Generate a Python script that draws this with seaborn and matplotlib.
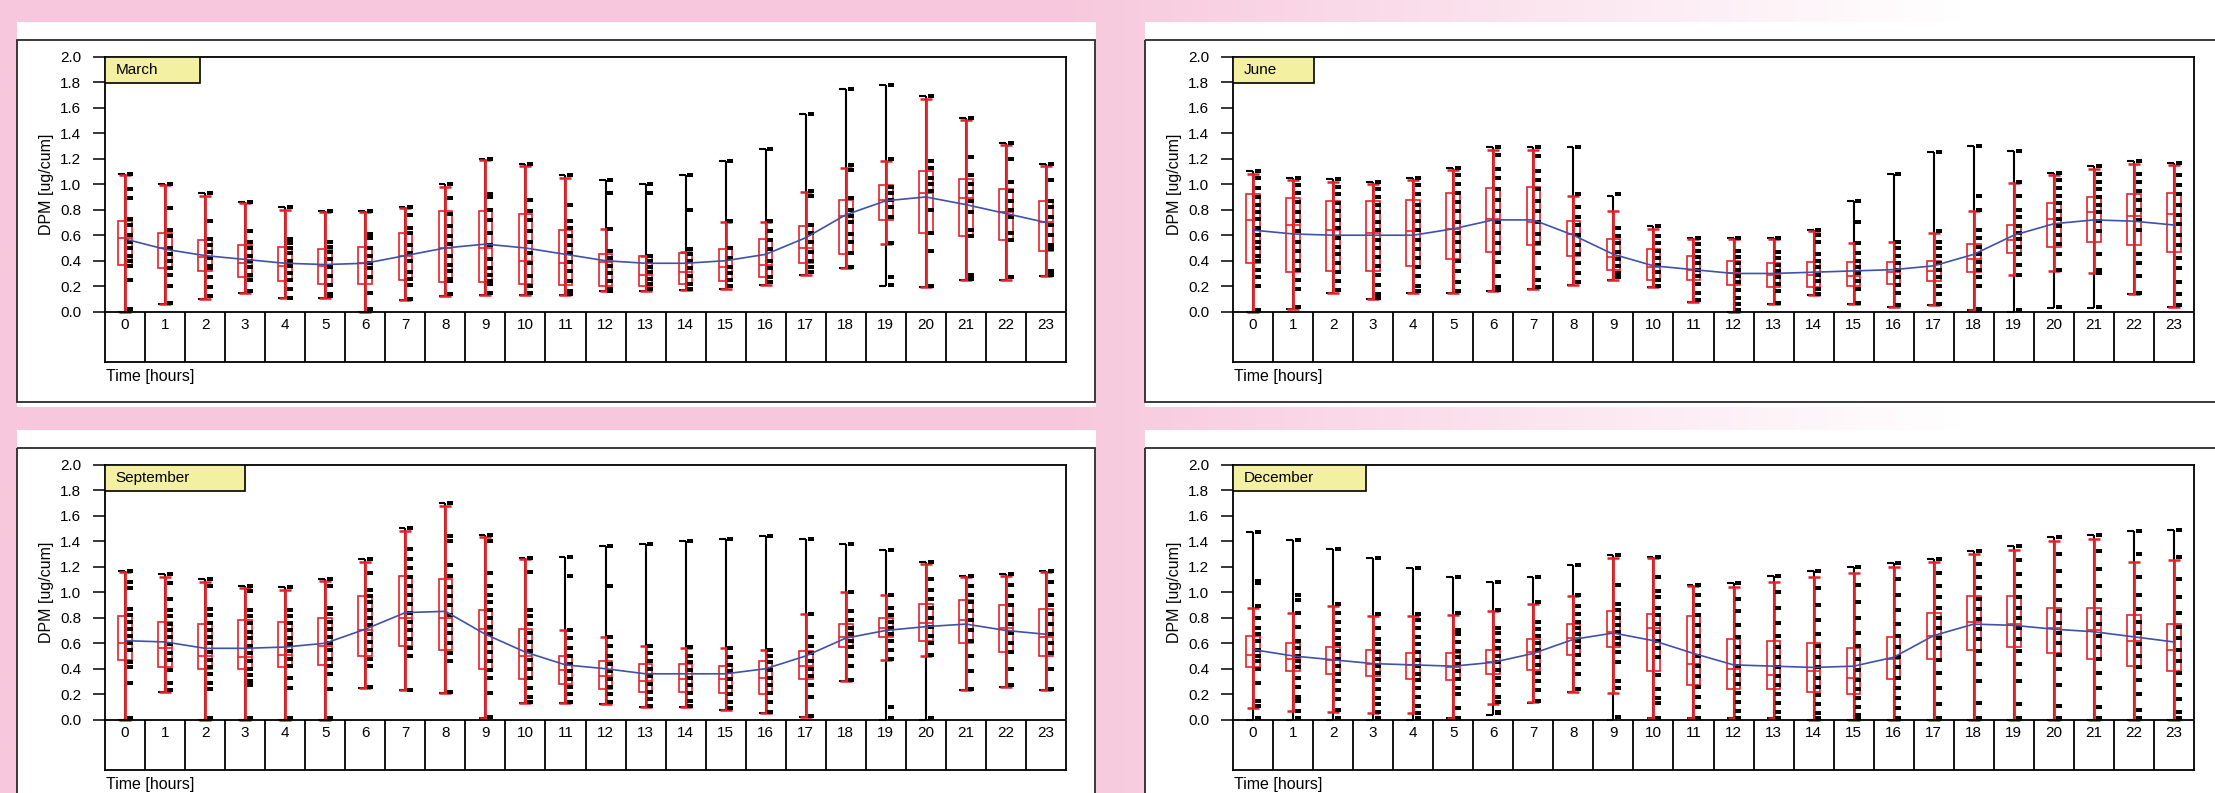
import numpy as np
import pandas as pd
import matplotlib
matplotlib.use("Agg")
import matplotlib.pyplot as plt
import seaborn as sns
from matplotlib.patches import Rectangle
from matplotlib.ticker import FormatStrFormatter

plt.rcParams["font.family"] = ["Liberation Sans", "DejaVu Sans"]

HOURS = list(range(24))
HOUR_LABELS = [str(h) for h in HOURS]
Y_TICKS = [0.0, 0.2, 0.4, 0.6, 0.8, 1.0, 1.2, 1.4, 1.6, 1.8, 2.0]
Y_LABEL = "DPM [ug/cum]"
X_LABEL = "Time [hours]"

# ---------------- March ----------------
MARCH_MIN = [0.00, 0.06, 0.10, 0.15, 0.11, 0.11, 0.00, 0.09, 0.12, 0.13, 0.13, 0.13,
             0.16, 0.16, 0.17, 0.18, 0.21, 0.29, 0.34, 0.20, 0.19, 0.25, 0.25, 0.28]
MARCH_MAX = [1.08, 1.00, 0.93, 0.86, 0.82, 0.79, 0.79, 0.82, 1.00, 1.20, 1.16, 1.07,
             1.03, 1.00, 1.07, 1.18, 1.28, 1.55, 1.75, 1.78, 1.69, 1.52, 1.32, 1.16]
MARCH_WLO = [0.00, 0.06, 0.10, 0.15, 0.11, 0.11, 0.00, 0.09, 0.12, 0.13, 0.13, 0.13,
             0.16, 0.16, 0.17, 0.18, 0.21, 0.29, 0.34, 0.53, 0.19, 0.25, 0.25, 0.28]
MARCH_WHI = [1.07, 0.99, 0.91, 0.85, 0.80, 0.78, 0.78, 0.81, 0.98, 1.19, 1.14, 1.05,
             0.65, 0.44, 0.47, 0.70, 0.70, 0.94, 1.13, 1.18, 1.67, 1.50, 1.31, 1.14]
MARCH_Q1 = [0.37, 0.34, 0.32, 0.27, 0.24, 0.22, 0.22, 0.25, 0.23, 0.23, 0.22, 0.21,
            0.20, 0.20, 0.22, 0.24, 0.27, 0.38, 0.45, 0.72, 0.62, 0.59, 0.56, 0.48]
MARCH_MED = [0.58, 0.50, 0.43, 0.38, 0.36, 0.36, 0.38, 0.44, 0.50, 0.50, 0.40, 0.38,
             0.39, 0.29, 0.31, 0.35, 0.37, 0.50, 0.75, 0.88, 0.93, 0.89, 0.78, 0.70]
MARCH_Q3 = [0.71, 0.62, 0.56, 0.52, 0.51, 0.49, 0.51, 0.62, 0.79, 0.79, 0.77, 0.64,
            0.45, 0.44, 0.46, 0.49, 0.57, 0.67, 0.88, 0.99, 1.10, 1.04, 0.96, 0.87]
MARCH_MEAN = [0.57, 0.49, 0.44, 0.41, 0.38, 0.37, 0.38, 0.44, 0.50, 0.53, 0.50, 0.45,
              0.40, 0.38, 0.38, 0.40, 0.45, 0.58, 0.76, 0.87, 0.90, 0.84, 0.77, 0.70]
MARCH_POINTS = [
    [1.08, 0.96, 0.89, 0.73, 0.68, 0.60, 0.55, 0.50, 0.44, 0.40, 0.36, 0.25, 0.02],
    [1.00, 0.81, 0.64, 0.59, 0.50, 0.45, 0.40, 0.34, 0.29, 0.20, 0.07],
    [0.93, 0.71, 0.57, 0.52, 0.47, 0.42, 0.36, 0.34, 0.27, 0.19, 0.12],
    [0.86, 0.63, 0.55, 0.50, 0.44, 0.40, 0.35, 0.29, 0.25, 0.16],
    [0.82, 0.57, 0.54, 0.50, 0.46, 0.40, 0.36, 0.30, 0.25, 0.18, 0.11],
    [0.79, 0.55, 0.51, 0.47, 0.41, 0.35, 0.28, 0.21, 0.14, 0.12],
    [0.79, 0.61, 0.58, 0.50, 0.44, 0.38, 0.34, 0.27, 0.15, 0.02],
    [0.82, 0.76, 0.66, 0.62, 0.52, 0.46, 0.40, 0.31, 0.26, 0.21, 0.10],
    [1.00, 0.89, 0.77, 0.67, 0.59, 0.53, 0.44, 0.37, 0.32, 0.26, 0.24, 0.14],
    [1.20, 0.92, 0.90, 0.80, 0.72, 0.62, 0.52, 0.41, 0.34, 0.29, 0.24, 0.22, 0.15],
    [1.16, 0.88, 0.79, 0.72, 0.63, 0.55, 0.46, 0.38, 0.28, 0.20, 0.15],
    [1.07, 0.84, 0.71, 0.66, 0.59, 0.52, 0.46, 0.39, 0.32, 0.24, 0.16, 0.14],
    [1.03, 0.93, 0.65, 0.48, 0.42, 0.36, 0.30, 0.24, 0.18, 0.16],
    [1.00, 0.93, 0.44, 0.40, 0.35, 0.31, 0.26, 0.22, 0.18],
    [1.07, 0.80, 0.49, 0.45, 0.40, 0.34, 0.28, 0.22, 0.18],
    [1.18, 0.71, 0.50, 0.42, 0.35, 0.30, 0.25, 0.20],
    [1.28, 0.71, 0.63, 0.56, 0.49, 0.40, 0.34, 0.27, 0.23],
    [1.55, 0.95, 0.91, 0.68, 0.62, 0.55, 0.47, 0.40, 0.35, 0.31],
    [1.75, 1.15, 1.11, 0.89, 0.80, 0.75, 0.70, 0.61, 0.55, 0.46, 0.35],
    [1.78, 1.20, 0.98, 0.93, 0.88, 0.82, 0.74, 0.54, 0.27, 0.21],
    [1.69, 1.18, 1.13, 1.05, 1.00, 0.95, 0.80, 0.62, 0.48, 0.20],
    [1.52, 1.21, 1.07, 1.00, 0.94, 0.87, 0.78, 0.64, 0.59, 0.29, 0.26],
    [1.32, 1.20, 1.02, 0.95, 0.87, 0.80, 0.74, 0.62, 0.56, 0.27],
    [1.16, 1.03, 0.87, 0.82, 0.74, 0.68, 0.60, 0.52, 0.49, 0.32, 0.29],
]

# ---------------- June ----------------
JUNE_MIN = [0.00, 0.02, 0.15, 0.10, 0.15, 0.15, 0.16, 0.18, 0.21, 0.25, 0.19, 0.08,
            0.00, 0.06, 0.13, 0.06, 0.04, 0.05, 0.01, 0.00, 0.03, 0.03, 0.14, 0.04]
JUNE_MAX = [1.10, 1.05, 1.04, 1.02, 1.05, 1.13, 1.29, 1.29, 1.29, 0.91, 0.67, 0.58,
            0.58, 0.58, 0.64, 0.87, 1.08, 1.25, 1.30, 1.26, 1.09, 1.14, 1.18, 1.17]
JUNE_WLO = [0.00, 0.02, 0.15, 0.10, 0.15, 0.15, 0.16, 0.18, 0.21, 0.25, 0.19, 0.08,
            0.00, 0.06, 0.13, 0.06, 0.04, 0.05, 0.01, 0.29, 0.32, 0.30, 0.14, 0.04]
JUNE_WHI = [1.08, 1.03, 1.02, 1.00, 1.03, 1.11, 1.27, 1.27, 0.91, 0.79, 0.65, 0.57,
            0.57, 0.57, 0.63, 0.54, 0.55, 0.62, 0.79, 1.01, 1.07, 1.12, 1.16, 1.15]
JUNE_Q1 = [0.38, 0.31, 0.32, 0.32, 0.36, 0.41, 0.47, 0.52, 0.44, 0.33, 0.25, 0.25,
           0.21, 0.19, 0.19, 0.20, 0.22, 0.24, 0.31, 0.46, 0.51, 0.55, 0.52, 0.47]
JUNE_MED = [0.72, 0.68, 0.64, 0.62, 0.63, 0.65, 0.73, 0.70, 0.61, 0.43, 0.35, 0.33,
            0.30, 0.29, 0.29, 0.28, 0.31, 0.32, 0.41, 0.56, 0.73, 0.78, 0.75, 0.77]
JUNE_Q3 = [0.92, 0.89, 0.87, 0.87, 0.88, 0.93, 0.97, 0.98, 0.71, 0.57, 0.49, 0.44,
           0.40, 0.38, 0.39, 0.39, 0.39, 0.40, 0.53, 0.68, 0.85, 0.90, 0.92, 0.93]
JUNE_MEAN = [0.64, 0.61, 0.60, 0.60, 0.60, 0.65, 0.72, 0.72, 0.60, 0.45, 0.36, 0.33,
             0.30, 0.30, 0.31, 0.32, 0.33, 0.36, 0.45, 0.60, 0.69, 0.72, 0.71, 0.68]
JUNE_POINTS = [
    [1.10, 1.05, 0.97, 0.90, 0.84, 0.78, 0.73, 0.66, 0.60, 0.55, 0.50, 0.44, 0.40, 0.33, 0.27, 0.20, 0.01],
    [1.05, 0.99, 0.93, 0.86, 0.78, 0.71, 0.63, 0.55, 0.48, 0.40, 0.33, 0.25, 0.18, 0.04],
    [1.04, 0.98, 0.92, 0.85, 0.79, 0.72, 0.66, 0.58, 0.51, 0.45, 0.38, 0.31, 0.24, 0.17],
    [1.02, 0.96, 0.90, 0.84, 0.78, 0.70, 0.64, 0.56, 0.50, 0.43, 0.36, 0.29, 0.21, 0.14, 0.11],
    [1.05, 0.99, 0.92, 0.84, 0.78, 0.71, 0.64, 0.56, 0.49, 0.42, 0.35, 0.28, 0.20, 0.16],
    [1.13, 1.07, 1.00, 0.93, 0.86, 0.79, 0.70, 0.62, 0.55, 0.48, 0.40, 0.32, 0.23, 0.16],
    [1.29, 1.23, 1.12, 1.05, 0.96, 0.88, 0.79, 0.70, 0.62, 0.54, 0.46, 0.39, 0.28, 0.19, 0.17],
    [1.29, 1.22, 1.10, 1.03, 0.96, 0.87, 0.79, 0.70, 0.61, 0.54, 0.46, 0.34, 0.25, 0.19],
    [1.29, 0.92, 0.82, 0.74, 0.68, 0.60, 0.52, 0.45, 0.38, 0.30, 0.23],
    [0.92, 0.66, 0.59, 0.54, 0.47, 0.41, 0.36, 0.30, 0.27],
    [0.67, 0.59, 0.54, 0.48, 0.42, 0.37, 0.31, 0.25, 0.20],
    [0.58, 0.53, 0.48, 0.43, 0.38, 0.33, 0.28, 0.22, 0.15, 0.09],
    [0.58, 0.48, 0.43, 0.38, 0.33, 0.28, 0.23, 0.17, 0.11, 0.06, 0.01],
    [0.58, 0.47, 0.42, 0.37, 0.32, 0.27, 0.22, 0.16, 0.07],
    [0.64, 0.60, 0.55, 0.45, 0.40, 0.35, 0.29, 0.24, 0.18, 0.14],
    [0.87, 0.70, 0.54, 0.46, 0.40, 0.35, 0.30, 0.24, 0.18, 0.07],
    [1.08, 0.55, 0.50, 0.44, 0.38, 0.33, 0.27, 0.21, 0.15, 0.05],
    [1.25, 0.63, 0.55, 0.50, 0.44, 0.38, 0.33, 0.27, 0.20, 0.14, 0.06],
    [1.30, 0.91, 0.80, 0.64, 0.58, 0.51, 0.45, 0.39, 0.33, 0.27, 0.20, 0.02],
    [1.26, 1.02, 0.91, 0.80, 0.74, 0.67, 0.62, 0.57, 0.51, 0.45, 0.37, 0.29, 0.01],
    [1.09, 1.03, 0.97, 0.91, 0.85, 0.79, 0.73, 0.67, 0.60, 0.53, 0.45, 0.33, 0.04],
    [1.14, 1.08, 1.02, 0.96, 0.90, 0.84, 0.78, 0.71, 0.63, 0.45, 0.33, 0.30, 0.04],
    [1.18, 1.08, 1.02, 0.95, 0.88, 0.80, 0.72, 0.64, 0.45, 0.38, 0.28, 0.15],
    [1.17, 1.07, 0.99, 0.92, 0.84, 0.76, 0.69, 0.60, 0.52, 0.42, 0.34, 0.23, 0.14, 0.05],
]

# ---------------- September ----------------
SEPTEMBER_MIN = [0.00, 0.22, 0.00, 0.00, 0.00, 0.00, 0.25, 0.23, 0.21, 0.01, 0.13, 0.13,
                 0.12, 0.10, 0.10, 0.08, 0.05, 0.02, 0.30, 0.00, 0.00, 0.23, 0.26, 0.23]
SEPTEMBER_MAX = [1.17, 1.14, 1.10, 1.05, 1.04, 1.10, 1.26, 1.50, 1.70, 1.45, 1.27, 1.28,
                 1.36, 1.38, 1.40, 1.42, 1.44, 1.42, 1.38, 1.33, 1.24, 1.13, 1.14, 1.17]
SEPTEMBER_WLO = [0.00, 0.22, 0.00, 0.00, 0.00, 0.00, 0.25, 0.23, 0.21, 0.01, 0.13, 0.13,
                 0.12, 0.10, 0.10, 0.08, 0.05, 0.02, 0.30, 0.47, 0.50, 0.23, 0.26, 0.23]
SEPTEMBER_WHI = [1.16, 1.12, 1.08, 1.03, 1.02, 1.09, 1.24, 1.48, 1.68, 1.43, 1.26, 0.70,
                 0.65, 0.58, 0.56, 0.56, 0.55, 0.83, 1.00, 0.98, 1.22, 1.12, 1.13, 1.16]
SEPTEMBER_Q1 = [0.47, 0.41, 0.40, 0.40, 0.41, 0.43, 0.50, 0.58, 0.55, 0.40, 0.32, 0.28,
                0.24, 0.22, 0.22, 0.21, 0.20, 0.32, 0.57, 0.65, 0.62, 0.60, 0.53, 0.50]
SEPTEMBER_MED = [0.60, 0.56, 0.50, 0.49, 0.51, 0.58, 0.70, 0.80, 0.80, 0.71, 0.50, 0.39,
                 0.34, 0.30, 0.32, 0.32, 0.33, 0.42, 0.65, 0.72, 0.76, 0.78, 0.72, 0.65]
SEPTEMBER_Q3 = [0.81, 0.77, 0.75, 0.78, 0.77, 0.80, 0.97, 1.13, 1.10, 0.86, 0.71, 0.50,
                0.46, 0.44, 0.44, 0.42, 0.46, 0.54, 0.75, 0.80, 0.91, 0.94, 0.90, 0.87]
SEPTEMBER_MEAN = [0.62, 0.61, 0.56, 0.56, 0.57, 0.60, 0.71, 0.84, 0.85, 0.67, 0.53, 0.43,
                  0.40, 0.36, 0.36, 0.36, 0.40, 0.50, 0.64, 0.70, 0.73, 0.75, 0.70, 0.67]
SEPTEMBER_POINTS = [
    [1.17, 1.08, 1.03, 0.87, 0.82, 0.77, 0.71, 0.66, 0.60, 0.55, 0.45, 0.41, 0.29, 0.01],
    [1.14, 1.07, 0.95, 0.86, 0.81, 0.75, 0.70, 0.65, 0.59, 0.52, 0.47, 0.39, 0.29, 0.23],
    [1.10, 1.05, 0.87, 0.82, 0.76, 0.70, 0.65, 0.60, 0.53, 0.47, 0.41, 0.36, 0.29, 0.24, 0.01],
    [1.05, 1.01, 0.86, 0.81, 0.76, 0.69, 0.64, 0.58, 0.52, 0.46, 0.40, 0.35, 0.30, 0.27, 0.01],
    [1.04, 0.86, 0.81, 0.76, 0.70, 0.64, 0.59, 0.54, 0.48, 0.42, 0.33, 0.25, 0.01],
    [1.10, 1.05, 0.88, 0.83, 0.77, 0.71, 0.65, 0.60, 0.55, 0.48, 0.42, 0.36, 0.24, 0.01],
    [1.26, 1.15, 1.02, 0.97, 0.92, 0.86, 0.80, 0.74, 0.67, 0.61, 0.55, 0.48, 0.42, 0.26],
    [1.50, 1.34, 1.26, 1.19, 1.12, 1.05, 0.98, 0.91, 0.84, 0.77, 0.70, 0.63, 0.56, 0.50, 0.23],
    [1.70, 1.44, 1.40, 1.21, 1.13, 1.04, 0.97, 0.90, 0.82, 0.74, 0.68, 0.60, 0.52, 0.46, 0.22],
    [1.45, 1.40, 1.15, 1.05, 0.98, 0.92, 0.86, 0.80, 0.73, 0.67, 0.60, 0.53, 0.46, 0.39, 0.33, 0.21, 0.02],
    [1.27, 1.16, 0.86, 0.81, 0.75, 0.68, 0.61, 0.54, 0.47, 0.40, 0.33, 0.25, 0.18, 0.14],
    [1.28, 1.13, 0.70, 0.64, 0.56, 0.50, 0.44, 0.38, 0.32, 0.26, 0.20, 0.14],
    [1.36, 1.05, 0.65, 0.58, 0.50, 0.44, 0.38, 0.32, 0.26, 0.20, 0.14],
    [1.38, 0.58, 0.52, 0.46, 0.40, 0.34, 0.28, 0.22, 0.16, 0.11],
    [1.40, 0.57, 0.50, 0.45, 0.39, 0.33, 0.27, 0.21, 0.15, 0.11],
    [1.42, 0.56, 0.49, 0.43, 0.38, 0.32, 0.26, 0.20, 0.14, 0.09],
    [1.44, 0.55, 0.50, 0.45, 0.39, 0.33, 0.27, 0.21, 0.14, 0.06],
    [1.42, 0.83, 0.65, 0.58, 0.52, 0.46, 0.40, 0.34, 0.27, 0.18, 0.03],
    [1.38, 1.00, 0.85, 0.78, 0.72, 0.67, 0.62, 0.57, 0.50, 0.42, 0.31],
    [1.33, 0.98, 0.88, 0.82, 0.77, 0.72, 0.67, 0.62, 0.55, 0.48, 0.10, 0.01],
    [1.24, 1.10, 1.02, 0.95, 0.88, 0.80, 0.73, 0.66, 0.60, 0.51, 0.01],
    [1.13, 1.05, 0.98, 0.92, 0.85, 0.78, 0.70, 0.62, 0.50, 0.38, 0.24],
    [1.14, 1.06, 0.97, 0.90, 0.82, 0.75, 0.68, 0.60, 0.53, 0.40, 0.27],
    [1.17, 1.08, 0.98, 0.90, 0.83, 0.75, 0.67, 0.60, 0.52, 0.40, 0.24],
]

# ---------------- December ----------------
DECEMBER_MIN = [0.00, 0.00, 0.00, 0.00, 0.00, 0.01, 0.04, 0.13, 0.22, 0.00, 0.01, 0.01,
                0.01, 0.01, 0.00, 0.00, 0.00, 0.00, 0.00, 0.00, 0.00, 0.00, 0.00, 0.00]
DECEMBER_MAX = [1.47, 1.41, 1.34, 1.27, 1.19, 1.12, 1.08, 1.12, 1.21, 1.29, 1.28, 1.06,
                1.07, 1.13, 1.17, 1.20, 1.23, 1.26, 1.32, 1.36, 1.43, 1.45, 1.48, 1.49]
DECEMBER_WLO = [0.09, 0.07, 0.06, 0.05, 0.05, 0.01, 0.12, 0.14, 0.22, 0.21, 0.01, 0.01,
                0.01, 0.01, 0.00, 0.00, 0.00, 0.00, 0.00, 0.00, 0.00, 0.00, 0.00, 0.00]
DECEMBER_WHI = [0.88, 0.84, 0.89, 0.81, 0.81, 0.82, 0.85, 0.91, 0.97, 1.27, 1.27, 1.05,
                1.04, 1.08, 1.12, 1.15, 1.20, 1.24, 1.30, 1.33, 1.40, 1.42, 1.24, 1.25]
DECEMBER_Q1 = [0.41, 0.38, 0.36, 0.34, 0.32, 0.31, 0.36, 0.39, 0.51, 0.57, 0.38, 0.27,
               0.24, 0.24, 0.22, 0.20, 0.32, 0.48, 0.55, 0.57, 0.52, 0.48, 0.42, 0.38]
DECEMBER_MED = [0.51, 0.48, 0.47, 0.44, 0.43, 0.41, 0.45, 0.53, 0.64, 0.69, 0.72, 0.44,
                0.40, 0.35, 0.38, 0.33, 0.48, 0.66, 0.77, 0.75, 0.72, 0.70, 0.62, 0.55]
DECEMBER_Q3 = [0.66, 0.60, 0.57, 0.55, 0.52, 0.52, 0.55, 0.63, 0.75, 0.85, 0.83, 0.81,
               0.63, 0.62, 0.60, 0.56, 0.65, 0.84, 0.97, 0.97, 0.88, 0.88, 0.82, 0.75]
DECEMBER_MEAN = [0.55, 0.50, 0.47, 0.44, 0.43, 0.42, 0.45, 0.52, 0.63, 0.68, 0.62, 0.52,
                 0.43, 0.42, 0.41, 0.42, 0.49, 0.66, 0.75, 0.74, 0.71, 0.69, 0.65, 0.61]
DECEMBER_POINTS = [
    [1.47, 1.09, 1.07, 0.89, 0.80, 0.72, 0.67, 0.62, 0.55, 0.50, 0.46, 0.40, 0.29, 0.15, 0.11, 0.01],
    [1.41, 0.98, 0.94, 0.84, 0.73, 0.62, 0.56, 0.50, 0.46, 0.41, 0.33, 0.26, 0.18, 0.15, 0.07, 0.01],
    [1.34, 0.91, 0.84, 0.77, 0.70, 0.64, 0.59, 0.54, 0.48, 0.42, 0.36, 0.30, 0.23, 0.16, 0.08, 0.01],
    [1.27, 0.83, 0.72, 0.63, 0.59, 0.53, 0.48, 0.42, 0.37, 0.31, 0.24, 0.17, 0.12, 0.06, 0.01],
    [1.19, 0.83, 0.78, 0.72, 0.65, 0.59, 0.53, 0.47, 0.42, 0.36, 0.31, 0.25, 0.18, 0.11, 0.05, 0.01],
    [1.12, 0.84, 0.70, 0.67, 0.61, 0.54, 0.49, 0.44, 0.38, 0.32, 0.25, 0.20, 0.09, 0.01],
    [1.08, 0.86, 0.72, 0.68, 0.62, 0.56, 0.50, 0.45, 0.39, 0.33, 0.27, 0.18, 0.14, 0.06, 0.05],
    [1.12, 0.92, 0.77, 0.71, 0.66, 0.60, 0.55, 0.49, 0.43, 0.37, 0.30, 0.23, 0.15],
    [1.21, 0.98, 0.89, 0.83, 0.77, 0.72, 0.67, 0.62, 0.57, 0.51, 0.44, 0.36, 0.24],
    [1.29, 1.06, 0.91, 0.86, 0.80, 0.74, 0.69, 0.64, 0.59, 0.53, 0.45, 0.30, 0.25, 0.02],
    [1.28, 1.12, 1.01, 0.96, 0.88, 0.82, 0.75, 0.69, 0.62, 0.56, 0.49, 0.35, 0.24, 0.17, 0.13, 0.01],
    [1.06, 0.98, 0.90, 0.82, 0.74, 0.66, 0.58, 0.50, 0.42, 0.34, 0.26, 0.18, 0.10, 0.01],
    [1.07, 0.95, 0.85, 0.74, 0.65, 0.57, 0.49, 0.42, 0.35, 0.28, 0.21, 0.14, 0.07, 0.01],
    [1.13, 1.00, 0.88, 0.76, 0.66, 0.57, 0.49, 0.41, 0.34, 0.27, 0.20, 0.13, 0.06, 0.01],
    [1.17, 1.03, 0.90, 0.78, 0.67, 0.58, 0.49, 0.41, 0.33, 0.26, 0.19, 0.12, 0.05, 0.01],
    [1.20, 1.06, 0.92, 0.80, 0.68, 0.58, 0.48, 0.39, 0.31, 0.24, 0.17, 0.10, 0.04, 0.01],
    [1.23, 1.10, 0.98, 0.86, 0.75, 0.66, 0.57, 0.49, 0.41, 0.33, 0.25, 0.17, 0.09, 0.01],
    [1.26, 1.15, 1.05, 0.96, 0.88, 0.80, 0.72, 0.64, 0.56, 0.47, 0.37, 0.25, 0.12, 0.01],
    [1.32, 1.22, 1.12, 1.03, 0.95, 0.87, 0.79, 0.71, 0.63, 0.54, 0.44, 0.30, 0.13, 0.01],
    [1.36, 1.25, 1.14, 1.05, 0.96, 0.88, 0.80, 0.72, 0.63, 0.54, 0.44, 0.30, 0.12, 0.01],
    [1.43, 1.30, 1.17, 1.05, 0.94, 0.85, 0.76, 0.68, 0.60, 0.51, 0.40, 0.27, 0.11, 0.01],
    [1.45, 1.32, 1.18, 1.05, 0.94, 0.84, 0.75, 0.66, 0.57, 0.48, 0.37, 0.25, 0.10, 0.01],
    [1.48, 1.30, 1.12, 0.98, 0.87, 0.77, 0.68, 0.59, 0.50, 0.41, 0.31, 0.20, 0.08, 0.01],
    [1.49, 1.28, 1.10, 0.96, 0.84, 0.73, 0.64, 0.55, 0.46, 0.37, 0.27, 0.16, 0.06, 0.01],
]

PANELS = [
    ("March", MARCH_MIN, MARCH_MAX, MARCH_WLO, MARCH_WHI, MARCH_Q1, MARCH_MED, MARCH_Q3,
     MARCH_MEAN, MARCH_POINTS),
    ("June", JUNE_MIN, JUNE_MAX, JUNE_WLO, JUNE_WHI, JUNE_Q1, JUNE_MED, JUNE_Q3,
     JUNE_MEAN, JUNE_POINTS),
    ("September", SEPTEMBER_MIN, SEPTEMBER_MAX, SEPTEMBER_WLO, SEPTEMBER_WHI, SEPTEMBER_Q1,
     SEPTEMBER_MED, SEPTEMBER_Q3, SEPTEMBER_MEAN, SEPTEMBER_POINTS),
    ("December", DECEMBER_MIN, DECEMBER_MAX, DECEMBER_WLO, DECEMBER_WHI, DECEMBER_Q1,
     DECEMBER_MED, DECEMBER_Q3, DECEMBER_MEAN, DECEMBER_POINTS),
]

# ---------------- layout (pixels) ----------------
W, H = 2215, 793
PINK = np.array([247, 200, 221]) / 255.0
RED = "#e3232a"
BLUE = "#3f51a8"
TAG_FILL = "#f4f0a2"
TAG_WIDTH = {"March": 2.37, "June": 2.03, "September": 3.5, "December": 3.32}

COL_X = [17, 1145]          # card / frame left edge
ROW_Y = [22, 430]           # card top edge
CARD_W = 1079
CARD_H = 385

fig = plt.figure(figsize=(W / 100, H / 100), dpi=100)

# page background: pink fading towards white on the right
bg = fig.add_axes([0, 0, 1, 1], zorder=-10)
xs = np.arange(W)
t = np.clip((xs - 1060) / 900.0, 0, 1)
grad = PINK[None, :] * (1 - t[:, None]) + np.ones(3)[None, :] * t[:, None]
bg.imshow(grad[None, :, :], aspect="auto", extent=[0, W, H, 0], interpolation="bilinear")
bg.set_xlim(0, W)
bg.set_ylim(H, 0)
bg.axis("off")

for r in range(2):
    for c in range(2):
        x0, y0 = COL_X[c], ROW_Y[r]
        bg.add_patch(Rectangle((x0, y0), CARD_W, CARD_H, facecolor="white",
                               edgecolor="none", zorder=1))
        bg.add_patch(Rectangle((x0, y0 + 18), CARD_W - 1, CARD_H - 23, facecolor="none",
                               edgecolor="#2a2a2a", lw=1.3, zorder=2))


def px_axes(x0, y0, x1, y1):
    return fig.add_axes([x0 / W, 1 - y1 / H, (x1 - x0) / W, (y1 - y0) / H])


Y_BOTTOM = -0.392
for idx, (name, mn, mx, wlo, whi, q1, med, q3, mean, points) in enumerate(PANELS):
    r, c = divmod(idx, 2)
    left = COL_X[c] + 88
    top = ROW_Y[r] + 34.7
    ax = px_axes(left, top, left + 961, top + 305)
    ax.set_xlim(-0.5, 23.5)
    ax.set_ylim(Y_BOTTOM, 2.0)
    ax.set_facecolor("white")

    h = np.array(HOURS, dtype=float)

    # full range (black) with short cap on the left at the maximum
    ax.vlines(h, mn, mx, color="black", lw=1.5, zorder=2)
    ax.hlines(mx, h - 0.17, h, color="black", lw=1.5, zorder=2)
    ax.hlines(mn, h - 0.17, h, color="black", lw=1.5, zorder=2)

    # red whiskers with caps
    ax.vlines(h, wlo, whi, color=RED, lw=2.0, zorder=3)
    ax.hlines(whi, h - 0.15, h + 0.15, color=RED, lw=1.8, zorder=3)
    ax.hlines(wlo, h - 0.15, h + 0.15, color=RED, lw=1.8, zorder=3)

    # interquartile box and median
    q1a, q3a = np.array(q1), np.array(q3)
    ax.bar(h, q3a - q1a, bottom=q1a, width=0.34, fill=False, edgecolor=RED,
           linewidth=1.2, zorder=3)
    ax.hlines(med, h - 0.17, h + 0.17, color=RED, lw=1.2, zorder=3)

    # individual measurements
    pts = pd.DataFrame([(hr + 0.12, v) for hr, vals in zip(HOURS, points) for v in vals],
                       columns=["hour", "value"])
    sns.scatterplot(data=pts, x="hour", y="value", ax=ax, color="black",
                    marker=[(-1, -0.75), (1, -0.75), (1, 0.75), (-1, 0.75)],
                    s=20, linewidth=0, zorder=4, legend=False)

    # hourly mean
    sns.lineplot(x=HOURS, y=mean, ax=ax, color=BLUE, lw=1.2, zorder=5, legend=False)

    # hour table under the axis
    ax.axhline(0, color="black", lw=1.3, zorder=6)
    ax.vlines(h[:-1] + 0.5, Y_BOTTOM, 0, color="black", lw=1.3, zorder=6)
    for hr, lab in zip(HOURS, HOUR_LABELS):
        ax.text(hr, -0.105, lab, ha="center", va="center", fontsize=11, zorder=7)

    # month tag
    tw = TAG_WIDTH[name]
    ax.add_patch(Rectangle((-0.5, 1.79), tw, 0.21, facecolor=TAG_FILL, edgecolor="black",
                           lw=1.2, zorder=8))
    ax.text(-0.5 + 0.27, 1.893, name, ha="left", va="center", fontsize=11, zorder=9)

    # axes styling
    ax.set_xticks([])
    ax.set_yticks(Y_TICKS)
    ax.yaxis.set_major_formatter(FormatStrFormatter("%.1f"))
    ax.tick_params(axis="y", direction="out", length=9, width=1.1, pad=8, labelsize=11)
    ax.set_xlabel("")
    ax.set_ylabel("")
    for sp in ax.spines.values():
        sp.set_color("black")
        sp.set_linewidth(1.3)

    # axis titles
    fig.text((left - 58) / W, 1 - (top + 127.5) / H, Y_LABEL, rotation=90,
             ha="center", va="center", fontsize=11.5)
    fig.text((left + 1) / W, 1 - (top + 305 + 14.5) / H, X_LABEL,
             ha="left", va="center", fontsize=11.5)

fig.savefig("out.png", dpi=100)
